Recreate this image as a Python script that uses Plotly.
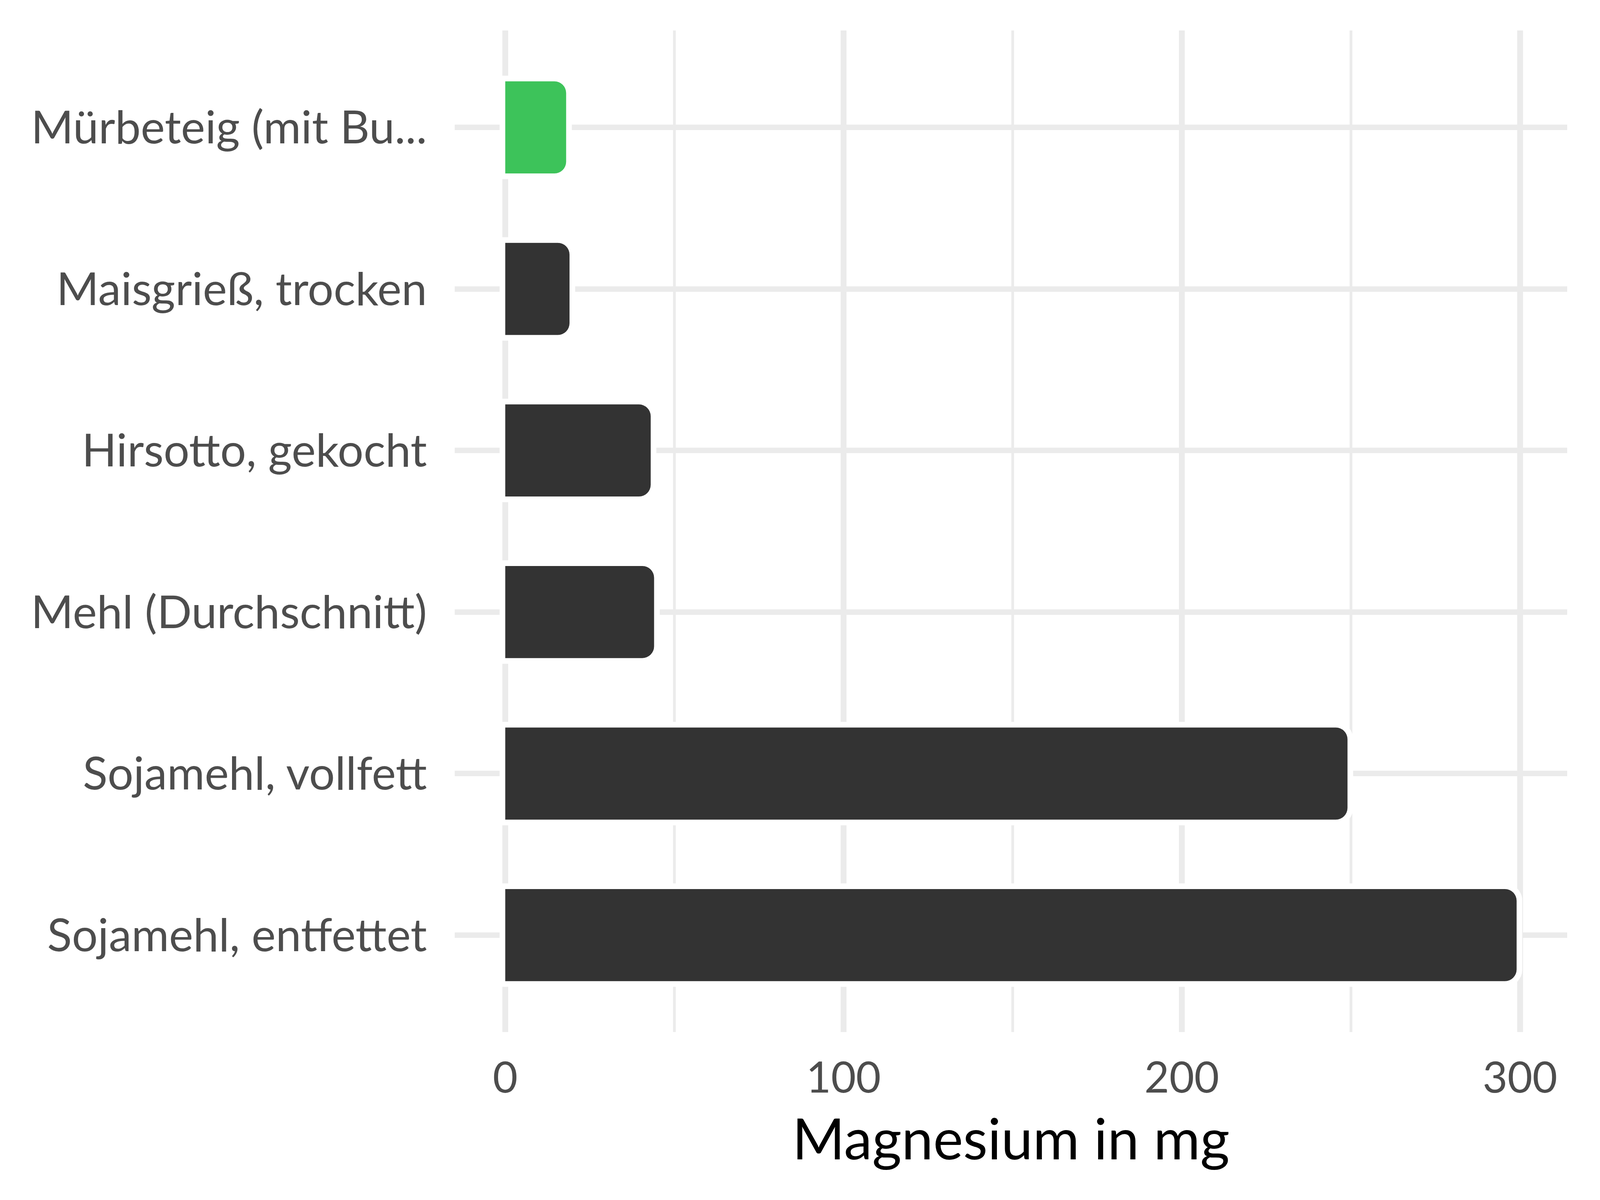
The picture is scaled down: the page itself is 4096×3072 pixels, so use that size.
import plotly.graph_objects as go

# categories listed bottom-to-top
categories = [
    "Sojamehl, entfettet",
    "Sojamehl, vollfett",
    "Mehl (Durchschnitt)",
    "Hirsotto, gekocht",
    "Maisgrieß, trocken",
    "Mürbeteig (mit Bu...",
]
values = [299, 249, 44, 43, 19, 18]
colors = ["#333333", "#333333", "#333333", "#333333", "#333333", "#3DC35A"]
x_ticks = [0, 100, 200, 300]
x_title = "Magnesium in mg"

FONT = "Lato"
W, H = 4096, 3072
bar_w = 0.57

fig = go.Figure()
# white halo behind the bars
fig.add_trace(go.Bar(
    y=categories, x=values, orientation="h", width=bar_w,
    marker=dict(color="white", line=dict(color="white", width=29), cornerradius=30),
    hoverinfo="skip", showlegend=False,
))
fig.add_trace(go.Bar(
    y=categories, x=values, orientation="h", width=bar_w,
    marker=dict(color=colors, line=dict(width=0), cornerradius=30),
    showlegend=False,
))

xmax = max(values)
fig.update_layout(
    width=W, height=H,
    barmode="overlay",
    paper_bgcolor="white", plot_bgcolor="white",
    margin=dict(l=1156, r=92, t=70, b=438, autoexpand=False),
    font=dict(family=FONT, color="#4D4D4D"),
    xaxis=dict(
        range=[-0.05 * xmax, 1.05 * xmax],
        tickvals=x_ticks, ticktext=[str(t) for t in x_ticks],
        showgrid=True, gridcolor="#EBEBEB", gridwidth=14.5,
        minor=dict(dtick=50, tick0=0, showgrid=True, gridcolor="#EBEBEB", gridwidth=7),
        zeroline=False, showline=False, ticks="",
        tickfont=dict(family=FONT, size=110, color="#4D4D4D"),
        ticklabelstandoff=44,
        title=dict(text=x_title, font=dict(family=FONT, size=145, color="black"), standoff=47),
        fixedrange=True,
    ),
    yaxis=dict(
        categoryorder="array", categoryarray=categories,
        range=[-0.6, len(categories) - 0.4],
        showgrid=True, gridcolor="#EBEBEB", gridwidth=14,
        zeroline=False, showline=False, ticks="",
        tickfont=dict(family=FONT, size=117, color="#4D4D4D"),
        ticklabelstandoff=70,
        fixedrange=True,
    ),
)

fig.write_html("out.html")
